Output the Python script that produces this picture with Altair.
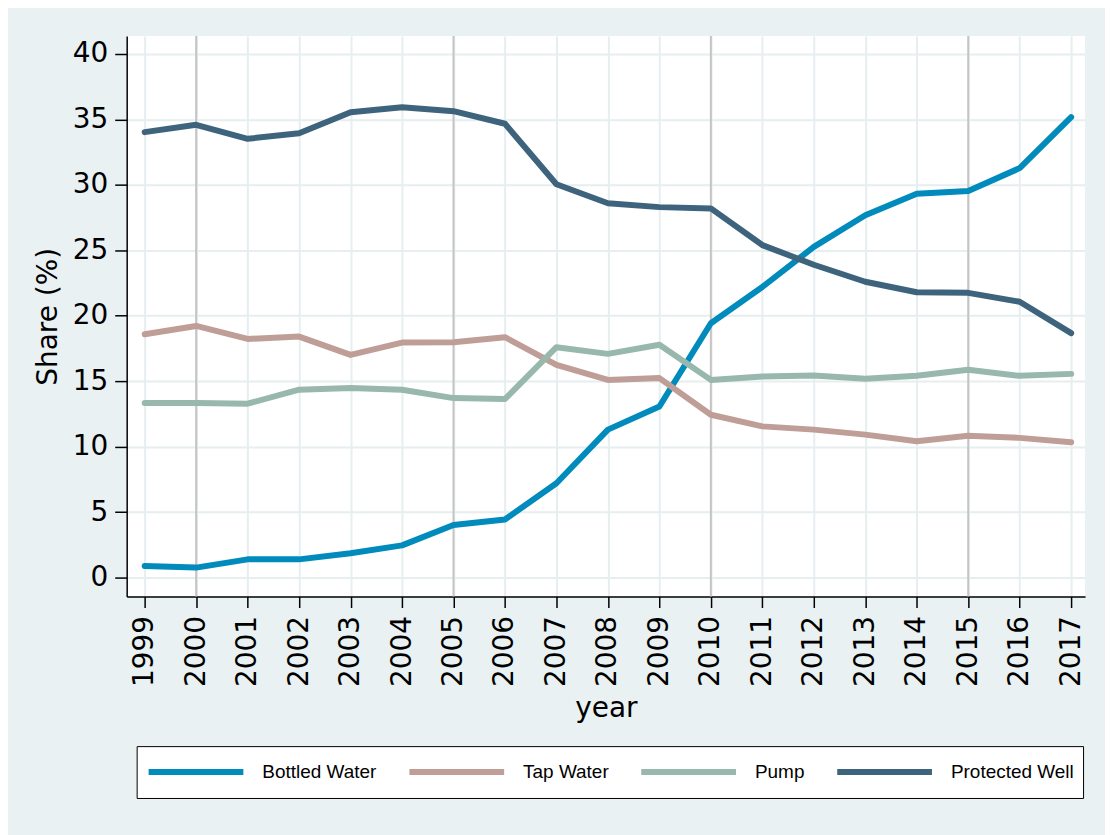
import altair as alt
import pandas as pd

# ---- data ----
years = list(range(1999, 2018))
bottled = [0.88, 0.76, 1.39, 1.39, 1.85, 2.46, 4.01, 4.44, 7.2, 11.3, 13.07,
           19.43, 22.2, 25.26, 27.68, 29.33, 29.53, 31.28, 35.17]
tap = [18.59, 19.22, 18.23, 18.41, 17.01, 17.95, 17.97, 18.36, 16.25, 15.1, 15.24,
       12.44, 11.55, 11.3, 10.92, 10.41, 10.84, 10.67, 10.33]
pump = [13.33, 13.33, 13.28, 14.35, 14.48, 14.35, 13.71, 13.64, 17.6, 17.09, 17.78,
        15.1, 15.36, 15.44, 15.18, 15.41, 15.87, 15.41, 15.56]
well = [34.03, 34.59, 33.52, 33.95, 35.55, 35.93, 35.63, 34.67, 30.05, 28.6, 28.3,
        28.2, 25.4, 23.9, 22.6, 21.8, 21.75, 21.07, 18.67]
series_names = ["Bottled Water", "Tap Water", "Pump", "Protected Well"]
series_colors = ["#008bbc", "#c09e98", "#98b7ad", "#3e647d"]
major_years = [2000, 2005, 2010, 2015]
y_ticks = [0, 5, 10, 15, 20, 25, 30, 35, 40]

rows = []
for name, vals in zip(series_names, [bottled, tap, pump, well]):
    for yr, v in zip(years, vals):
        rows.append({"year": yr, "share": v, "series": name})
df = pd.DataFrame(rows)
major_df = pd.DataFrame({"year": major_years})

FONT = "DejaVu Sans"
GRID = "#e6eef0"

x_scale = alt.Scale(domain=[1998.65, 2017.27], nice=False, zero=False)
y_scale = alt.Scale(domain=[-1.45, 41.37], nice=False, zero=False)

x_axis = alt.Axis(values=years, format="d", labelAngle=-90, labelFont=FONT,
                  labelFontSize=28, labelColor="black", labelPadding=8,
                  labelFlush=False, labelOverlap=False, tickSize=11,
                  title="year", titleFont=FONT, titleFontSize=28,
                  titleFontWeight="normal", titleColor="black", titlePadding=8,
                  grid=True, gridColor=GRID, gridWidth=2)
y_axis = alt.Axis(values=y_ticks, labelFont=FONT, labelFontSize=28,
                  labelColor="black", labelPadding=7, labelFlush=False,
                  tickSize=12, title="Share (%)", titleFont=FONT,
                  titleFontSize=28, titleFontWeight="normal", titleColor="black",
                  titlePadding=10, grid=True, gridColor=GRID, gridWidth=2)

rules = alt.Chart(major_df).mark_rule(color="#c4c4c4", strokeWidth=2).encode(
    x=alt.X("year:Q", scale=x_scale, axis=x_axis)
)

lines = alt.Chart(df).mark_line(strokeWidth=6, strokeJoin="round", strokeCap="round").encode(
    x=alt.X("year:Q", scale=x_scale, axis=x_axis),
    y=alt.Y("share:Q", scale=y_scale, axis=y_axis),
    color=alt.Color(
        "series:N",
        scale=alt.Scale(domain=series_names, range=series_colors),
        legend=alt.Legend(
            orient="none", legendX=10, legendY=712, direction="horizontal",
            columns=4, title=None, symbolType="stroke", symbolSize=9025,
            symbolStrokeWidth=6, symbolOpacity=1, labelFont="Liberation Sans",
            labelFontSize=19, labelColor="black", fillColor="white",
            strokeColor="black", padding=9, columnPadding=29.5, labelOffset=16,
            gridAlign="none", labelLimit=400, clipHeight=34,
        ),
    ),
    detail="series:N",
)

chart = alt.layer(rules, lines).properties(
    width=961, height=562,
    background="#e9f1f3",
    padding={"left": 119, "top": 27, "right": 20, "bottom": 238},
    autosize=alt.AutoSizeParams(type="none"),
).configure_view(
    fill="white", stroke=None
).configure_axis(
    domainColor="black", domainWidth=1.5, tickColor="black", tickWidth=1.5
)

chart.save("out.html", embed_options={"renderer": "svg", "actions": False})
